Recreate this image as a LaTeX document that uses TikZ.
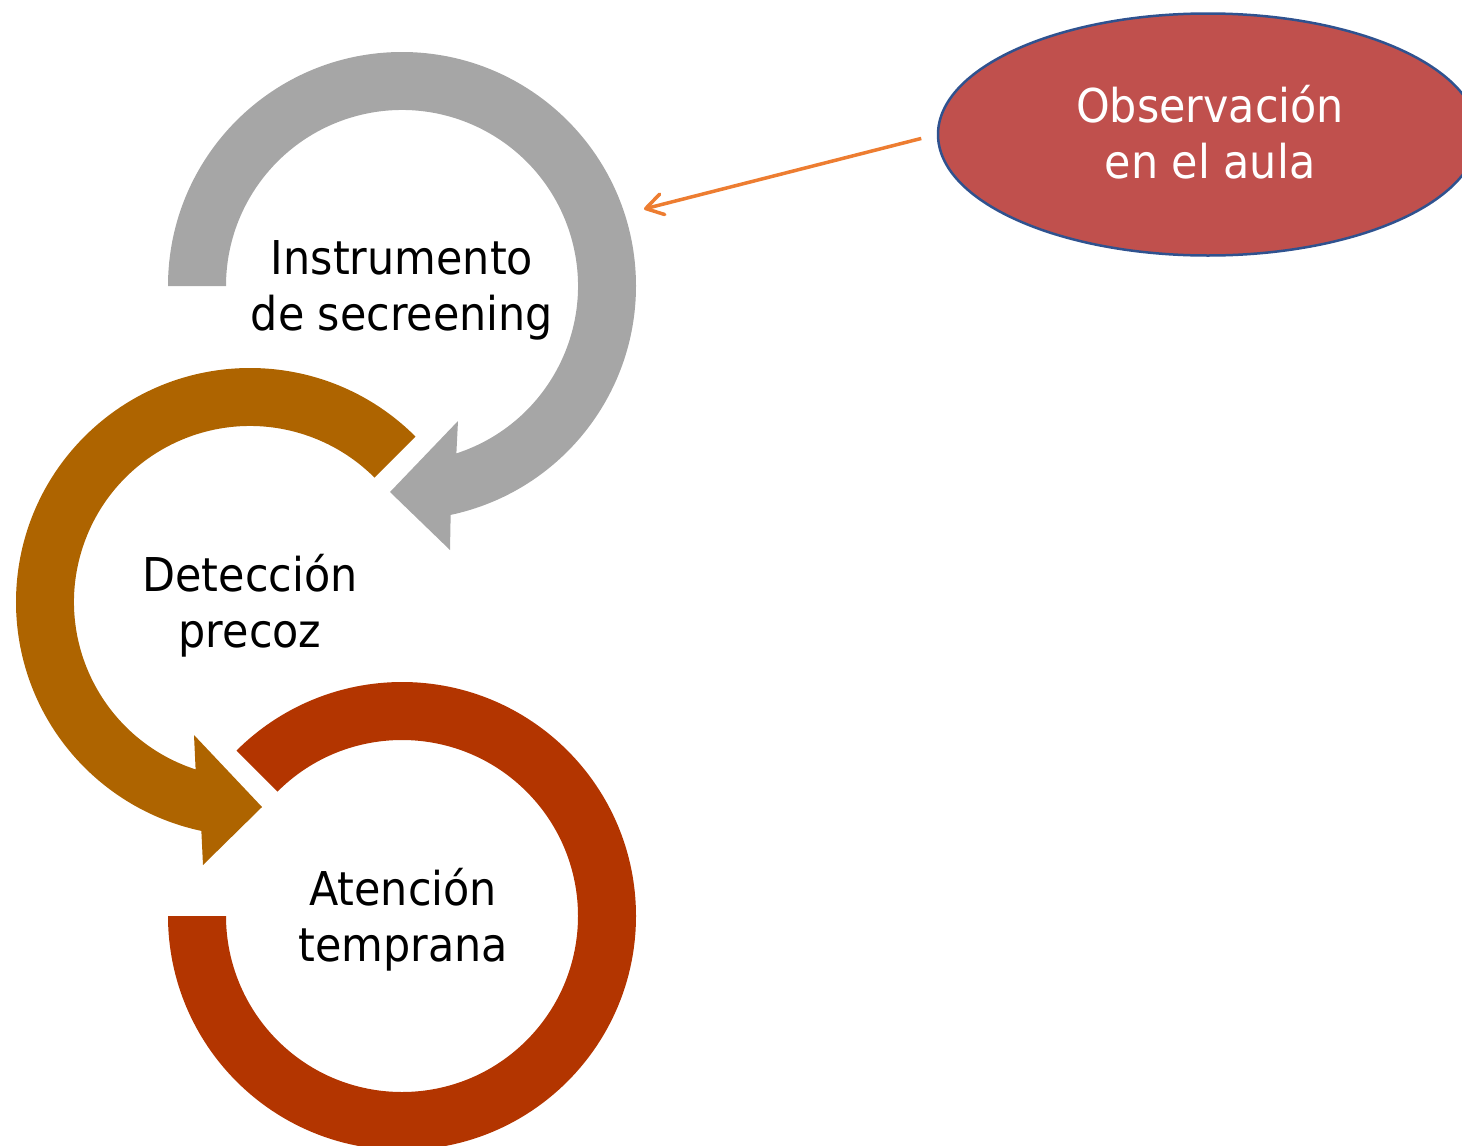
\documentclass[tikz,border=0pt]{standalone}
\usepackage{fontspec}
\setmainfont{DejaVu Sans}[FakeStretch=0.92]
\usetikzlibrary{calc,shapes.geometric,arrows.meta}
\definecolor{arcgray}{RGB}{166,166,166}
\definecolor{arcbrown}{RGB}{174,100,0}
\definecolor{arcred}{RGB}{179,53,0}
\definecolor{ellfill}{RGB}{192,80,77}
\definecolor{ellborder}{RGB}{47,82,143}
\definecolor{arrorange}{RGB}{237,125,49}
\tikzset{
  lbl/.style={anchor=base, inner sep=0pt, font=\fontsize{46.6pt}{56pt}\selectfont},
  obsshape/.style={ellipse, draw=ellborder, fill=ellfill, line width=2.5pt,
    minimum width=540pt, minimum height=242pt, inner sep=0pt},
  pointer/.style={draw=arrorange, line width=3.5pt,
    -{Straight Barb[length=17pt,width=21pt,round]}, shorten <=16pt}
}
\begin{document}
\begin{tikzpicture}[x=1pt,y=-1pt]
\useasboundingbox (0,0) rectangle (1462,1146);
\clip (0,0) rectangle (1462,1146);
\coordinate (gc) at (402,286);
\coordinate (bc) at (250,602);
\coordinate (rc) at (402,916);
% red circular band
\fill[arcred] ($(rc)+(180:234pt)$) arc[start angle=180, end angle=495, radius=234pt]
  -- ($(rc)+(135:176pt)$) arc[start angle=495, end angle=180, radius=176pt] -- cycle;
% brown circular arrow
\fill[arcbrown] ($(bc)+(45:234pt)$) arc[start angle=45, end angle=258, radius=234pt]
  -- (203,865) -- (262,807) -- (194,735)
  -- ($(bc)+(252:176pt)$) arc[start angle=252, end angle=45, radius=176pt] -- cycle;
% gray circular arrow
\fill[arcgray] ($(gc)+(180:234pt)$) arc[start angle=180, end angle=-78, radius=234pt]
  -- (450,550) -- (390,492) -- (458,421)
  -- ($(gc)+(-72:176pt)$) arc[start angle=-72, end angle=180, radius=176pt] -- cycle;
% labels
\node[lbl] (t1) at (402,274) {\begin{tabular}[t]{c}Instrumento\\de secreening\end{tabular}};
\node[lbl] (t2) at (250,591) {\begin{tabular}[t]{c}Detección\\precoz\end{tabular}};
\node[lbl] (t3) at (403,905) {\begin{tabular}[t]{c}Atención\\temprana\end{tabular}};
% observation ellipse
\node[obsshape] (obs) at (1208,134.5) {};
\node[lbl, text=white] (obstext) at (1210,122.5) {\begin{tabular}[t]{c}Observación\\en el aula\end{tabular}};
\coordinate (gtarget) at (644,209);
\draw[pointer] (obs.west) -- (gtarget);
\end{tikzpicture}
\end{document}
